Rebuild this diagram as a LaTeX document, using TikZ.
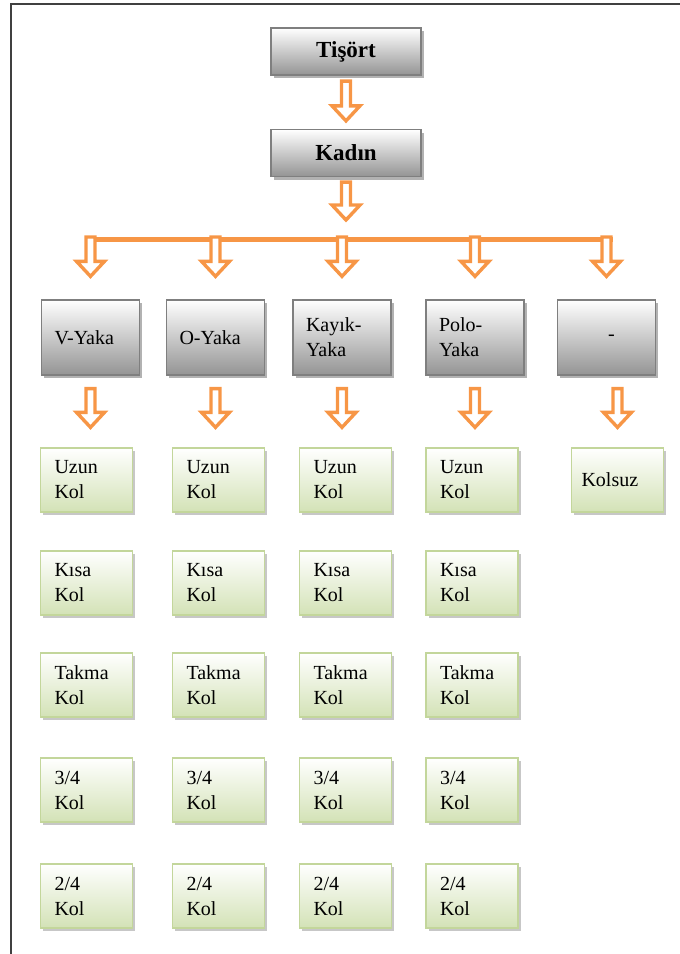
\documentclass[tikz,border=0pt]{standalone}
\usepackage{fontspec}
\setmainfont{Liberation Serif}
\usetikzlibrary{calc,shadows}
\definecolor{orng}{HTML}{F79646}
\definecolor{grayb}{HTML}{7F7F7F}
\definecolor{grnb}{HTML}{C3D69B}
\definecolor{grnf}{HTML}{D3E2B6}
\definecolor{framec}{HTML}{404040}
\tikzset{
  boxshadow/.style={drop shadow={shadow xshift=2.5pt, shadow yshift=-3pt, fill=black, opacity=0.3}},
  graybox/.style={draw=grayb, line width=1.3pt, top color=white, bottom color=black!42,
    boxshadow, minimum width=98pt, minimum height=75pt, text width=72pt, align=left,
    inner xsep=13pt, inner ysep=0pt, font=\fontsize{20}{25}\selectfont},
  topbox/.style={draw=grayb, line width=1.3pt, top color=white, bottom color=black!42,
    boxshadow, minimum width=150pt, minimum height=47pt, align=center,
    inner sep=0pt, font=\fontsize{23}{27}\selectfont\bfseries},
  greenbox/.style={draw=grnb, line width=1.3pt, top color=white, bottom color=grnf,
    drop shadow={shadow xshift=2.5pt, shadow yshift=-3pt, fill=black, opacity=0.22},
    minimum width=92pt, minimum height=64pt, text width=64pt, align=left,
    inner xsep=14pt, inner ysep=0pt, font=\fontsize{20}{25}\selectfont},
  hollowarrow/.style={draw=orng, fill=white, line width=3.4pt, line join=miter},
  barline/.style={draw=orng, line width=5pt},
}
\newcommand{\harrow}[2]{%
  \draw[hollowarrow] let \p1=#1, \p2=#2 in
    (\x1-4.5pt,\y1) -- (\x1+4.5pt,\y1) -- (\x1+4.5pt,\y2+15pt) -- (\x1+14pt,\y2+15pt)
    -- (\x1,\y2) -- (\x1-14pt,\y2+15pt) -- (\x1-4.5pt,\y2+15pt) -- cycle;}
\begin{document}
\begin{tikzpicture}[x=1pt,y=-1pt]
\useasboundingbox (0,0) rectangle (680,954);
\draw[framec, line width=2.4pt] (11,970) -- (11,4) -- (700,4);

% top nodes
\node[topbox] (t) at (346,51.5) {Tişört};
\node[topbox] (k) at (346,153) {Kadın};

% collar nodes
\node[graybox] (g1) at (90.5,337.5) {V-Yaka};
\node[graybox] (g2) at (215.5,337.5) {O-Yaka};
\node[graybox] (g3) at (342,337.5) {Kayık-\\Yaka};
\node[graybox] (g4) at (475,337.5) {Polo-\\Yaka};
\node[graybox, align=center] (g5) at (606.5,337.5) {\hspace*{10pt}-};

% sleeve nodes
\foreach \c/\x in {1/86.5, 2/218.5, 3/345.5, 4/472} {
  \node[greenbox] (c\c1) at (\x,480) {Uzun\\Kol};
  \node[greenbox] (c\c2) at (\x,583) {Kısa\\Kol};
  \node[greenbox] (c\c3) at (\x,685) {Takma\\Kol};
  \node[greenbox] (c\c4) at (\x,790) {3/4\\Kol};
  \node[greenbox] (c\c5) at (\x,896) {2/4\\Kol};
}
\node[greenbox, inner xsep=10pt, text width=72pt] (c51) at (617.5,480) {Kolsuz};

% bar
\coordinate (bar) at (346,237);
\coordinate (barL) at ($(g1.north |- bar)+(-6,2.5)$);
\coordinate (barR) at ($(g5.north |- bar)+(6,2.5)$);
\draw[barline] (barL) -- (barR);

% connectors
\harrow{($(t.south)+(0,5.5)$)}{($(k.north)+(0,-8)$)}
\harrow{($(k.south)+(0,5)$)}{($(bar)+(0,-17)$)}
\foreach \g in {g1,g2,g3,g4,g5} {
  \harrow{(\g.north |- bar)}{($(\g.north)+(0,-23)$)}
}
\foreach \g/\c in {g1/c11,g2/c21,g3/c31,g4/c41} {
  \harrow{($(\g.south)+(0,13)$)}{($(\c.north)+(0,-20)$)}
}
\harrow{($(g5.south -| c51.north)+(0,13)$)}{($(c51.north)+(0,-20)$)}
\end{tikzpicture}
\end{document}
